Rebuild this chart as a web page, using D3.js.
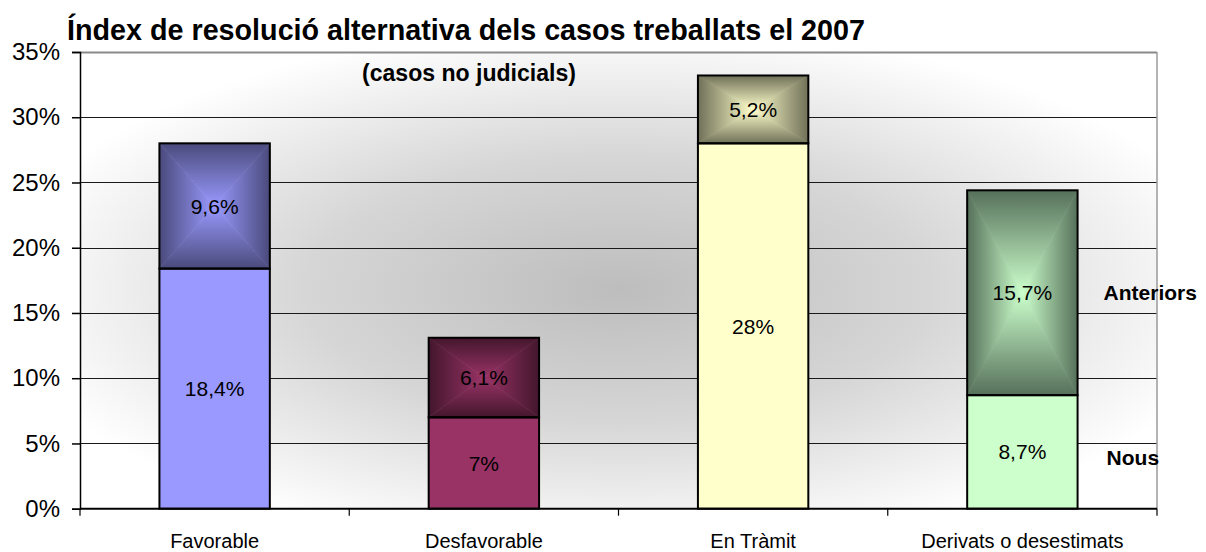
<!DOCTYPE html>
<html><head><meta charset="utf-8">
<script src="https://cdn.jsdelivr.net/npm/d3@7"></script>
<style>body{margin:0;background:#fff}svg text{font-family:"Liberation Sans",Arial,sans-serif}</style>
</head><body><svg id="c" width="1206" height="552"></svg>
<script>
const categories = ["Favorable","Desfavorable","En Tràmit","Derivats o desestimats"];
const nous = [18.4, 7, 28, 8.7];
const anteriors = [9.6, 6.1, 5.2, 15.7];
const nousLabels = ["18,4%","7%","28%","8,7%"];
const anteriorsLabels = ["9,6%","6,1%","5,2%","15,7%"];
const seriesNames = ["Nous","Anteriors"];
const yTicks = [0,5,10,15,20,25,30,35];
const baseColors = ["#9999ff","#993366","#ffffcc","#ccffcc"];
const edgeColors = ["#4a4a7c","#43162d","#707058","#56705a"];

const svg = d3.select("#c");
const L=80,R=1157,T=52,B=508.7;
const x = d3.scaleBand().domain(categories).range([L,R]).paddingInner(0.59).paddingOuter(0.295);
const y = d3.scaleLinear().domain([0,35]).range([B,T]);
const defs = svg.append("defs");

// background
const bg = defs.append("radialGradient").attr("id","bg").attr("cx",0.5).attr("cy",0.52).attr("r",0.58);
bg.append("stop").attr("offset",0).attr("stop-color","#bdbdbd");
bg.append("stop").attr("offset",0.5).attr("stop-color","#d6d6d6");
bg.append("stop").attr("offset",1).attr("stop-color","#ffffff");
svg.append("rect").attr("x",L).attr("y",T).attr("width",R-L).attr("height",B-T).attr("fill","url(#bg)");

// gridlines
svg.append("g").selectAll("line").data(yTicks.filter(d=>d>0)).join("line")
  .attr("x1",L).attr("x2",R).attr("y1",d=>Math.round(y(d))+0.5).attr("y2",d=>Math.round(y(d))+0.5)
  .attr("stroke",d=>d===35?"#8a8a8a":"#1a1a1a").attr("stroke-width",d=>d===35?2:1);
svg.append("line").attr("x1",R).attr("x2",R).attr("y1",T).attr("y2",B).attr("stroke","#9a9a9a").attr("stroke-width",1.5);

// bars
const bw = x.bandwidth();
categories.forEach((c,i)=>{
  const x0 = x(c), x1 = x0+bw;
  svg.append("rect").attr("x",x0).attr("y",y(nous[i])).attr("width",bw).attr("height",y(0)-y(nous[i]))
    .attr("fill",baseColors[i]);
  const y0 = y(nous[i]+anteriors[i]), y1 = y(nous[i]);
  const cx=(x0+x1)/2, cy=(y0+y1)/2;
  const tris = [
    {pts:[[x0,y0],[x1,y0],[cx,cy]], g:[cx,y0,cx,cy]},
    {pts:[[x0,y1],[x1,y1],[cx,cy]], g:[cx,y1,cx,cy]},
    {pts:[[x0,y0],[x0,y1],[cx,cy]], g:[x0,cy,cx,cy]},
    {pts:[[x1,y0],[x1,y1],[cx,cy]], g:[x1,cy,cx,cy]}
  ];
  tris.forEach((t,j)=>{
    const id="g"+i+"_"+j;
    const lg = defs.append("linearGradient").attr("id",id).attr("gradientUnits","userSpaceOnUse")
      .attr("x1",t.g[0]).attr("y1",t.g[1]).attr("x2",t.g[2]).attr("y2",t.g[3]);
    lg.append("stop").attr("offset",0).attr("stop-color",edgeColors[i]);
    lg.append("stop").attr("offset",0.3).attr("stop-color",d3.interpolateRgb(edgeColors[i],baseColors[i])(0.3));
    lg.append("stop").attr("offset",1).attr("stop-color",baseColors[i]);
    svg.append("polygon").attr("points",t.pts.map(p=>p.join(",")).join(" ")).attr("fill","url(#"+id+")")
      .attr("stroke","url(#"+id+")").attr("stroke-width",0.6);
  });
  svg.append("rect").attr("x",x0).attr("y",y(nous[i])).attr("width",bw).attr("height",y(0)-y(nous[i]))
    .attr("fill","none").attr("stroke","#000").attr("stroke-width",2);
  svg.append("rect").attr("x",x0).attr("y",y0).attr("width",bw).attr("height",y1-y0)
    .attr("fill","none").attr("stroke","#000").attr("stroke-width",2);
  svg.append("text").attr("x",cx).attr("y",(y(0)+y(nous[i]))/2).attr("dy","0.36em").attr("text-anchor","middle")
    .attr("font-size",21).attr("fill","#000").text(nousLabels[i]);
  svg.append("text").attr("x",cx).attr("y",cy).attr("dy","0.36em").attr("text-anchor","middle")
    .attr("font-size",21).attr("fill","#000").text(anteriorsLabels[i]);
});

// series name labels
const last = categories.length-1;
const lx = x(categories[last])+bw+26;
svg.append("text").attr("x",lx).attr("y",y(nous[last]+anteriors[last]/2)).attr("dy","0.36em")
  .attr("font-size",21).attr("font-weight","bold").text(seriesNames[1]);
svg.append("text").attr("x",lx+3).attr("y",y(nous[last]/2)+6).attr("dy","0.36em")
  .attr("font-size",21).attr("font-weight","bold").text(seriesNames[0]);

// y axis
const ya = svg.append("g").attr("transform",`translate(${L},0)`)
  .call(d3.axisLeft(y).tickValues(yTicks).tickFormat(d=>d+"%").tickSize(8).tickPadding(12));
ya.select(".domain").attr("stroke","#000").attr("stroke-width",1.5);
ya.selectAll(".tick line").attr("stroke","#000").attr("stroke-width",1.5);
ya.selectAll("text").attr("font-size",24).attr("fill","#000").attr("font-family","Liberation Sans, Arial, sans-serif");

// x axis
const xa = svg.append("g").attr("transform",`translate(0,${B})`)
  .call(d3.axisBottom(x).tickSize(0).tickPadding(25));
xa.select(".domain").remove();
xa.selectAll("text").attr("font-size",20).attr("fill","#000").attr("font-family","Liberation Sans, Arial, sans-serif");
svg.append("line").attr("x1",L).attr("x2",R).attr("y1",B).attr("y2",B).attr("stroke","#000").attr("stroke-width",2);
const bounds = categories.map(c=>x(c)-(x.step()-bw)/2).concat([R]);
svg.append("g").selectAll("line").data(bounds).join("line")
  .attr("x1",d=>d).attr("x2",d=>d).attr("y1",B).attr("y2",B+7).attr("stroke","#000").attr("stroke-width",1.2);

// titles
svg.append("text").attr("x",67).attr("y",40).attr("font-size",29).attr("font-weight","bold")
  .attr("textLength",798).attr("lengthAdjust","spacingAndGlyphs")
  .text("Índex de resolució alternativa dels casos treballats el 2007");
svg.append("text").attr("x",362).attr("y",81).attr("font-size",23).attr("font-weight","bold")
  .attr("textLength",214).attr("lengthAdjust","spacingAndGlyphs")
  .text("(casos no judicials)");
</script></body></html>
